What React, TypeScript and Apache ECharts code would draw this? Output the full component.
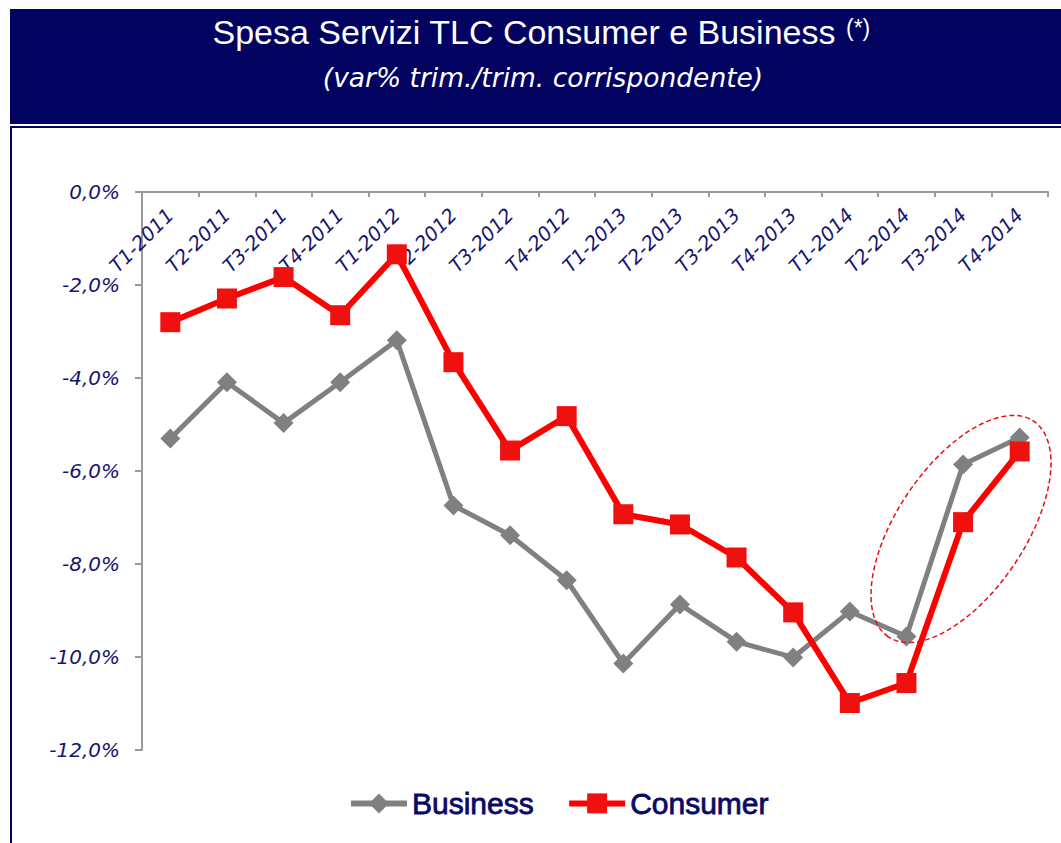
import React, { useEffect, useRef } from "react";
import * as echarts from "echarts";

const categories = [
  "T1-2011", "T2-2011", "T3-2011", "T4-2011",
  "T1-2012", "T2-2012", "T3-2012", "T4-2012",
  "T1-2013", "T2-2013", "T3-2013", "T4-2013",
  "T1-2014", "T2-2014", "T3-2014", "T4-2014",
];

const business = [
  -5.3, -4.09, -4.97, -4.09,
  -3.19, -6.74, -7.38, -8.35,
  -10.14, -8.87, -9.67, -10.01,
  -9.02, -9.56, -5.86, -5.28,
];

const consumer = [
  -2.8, -2.29, -1.83, -2.65,
  -1.34, -3.66, -5.56, -4.82,
  -6.93, -7.15, -7.86, -9.04,
  -10.99, -10.56, -7.1, -5.58,
];

const yMin = -12;
const yMax = 0;
const yStep = 2;

const titleText = "Spesa Servizi TLC Consumer e Business";
const titleNote = "(*)";
const subtitleText = "(var% trim./trim. corrispondente)";

const NAVY = "#020260";
const LABEL = "#16166e";

export default function App() {
  const ref = useRef<HTMLDivElement>(null);

  useEffect(() => {
    if (!ref.current) return;
    const chart = echarts.init(ref.current, null, { renderer: "svg" });
    chart.setOption({
      animation: false,
      backgroundColor: "#ffffff",
      grid: { left: 142, top: 192, right: 13, bottom: 93, containLabel: false, outerBoundsMode: "none" },
      xAxis: {
        type: "category",
        position: "top",
        data: categories,
        boundaryGap: true,
        axisLine: { show: true, onZero: false, lineStyle: { color: "#9a9a9a", width: 2 } },
        axisTick: { show: true, inside: true, length: 5, alignWithLabel: false, lineStyle: { color: "#9a9a9a", width: 2 } },
        axisLabel: {
          inside: true,
          rotate: -45,
          interval: 0,
          margin: 20,
          color: LABEL,
          fontFamily: "DejaVu Sans",
          fontStyle: "italic",
          fontSize: 19.5,
        },
        splitLine: { show: false },
      },
      yAxis: {
        type: "value",
        min: yMin,
        max: yMax,
        interval: yStep,
        axisLine: { show: true, lineStyle: { color: "#9a9a9a", width: 2 } },
        axisTick: { show: true, length: 7, lineStyle: { color: "#9a9a9a", width: 2 } },
        axisLabel: {
          margin: 22,
          color: LABEL,
          fontFamily: "DejaVu Sans",
          fontStyle: "italic",
          fontSize: 20,
          formatter: (v: number) => v.toFixed(1).replace(".", ",") + "%",
        },
        splitLine: { show: false },
      },
      legend: {
        data: ["Business", "Consumer"],
        left: 348,
        top: 788,
        padding: 0,
        itemWidth: 56,
        itemHeight: 25,
        itemGap: 32,
        lineStyle: { width: 6 },
        textStyle: {
          fontFamily: "Liberation Sans",
          fontSize: 30,
          color: "#0a0a66",
          textBorderColor: "#0a0a66",
          textBorderWidth: 0.8,
        },
      },
      series: [
        {
          name: "Business",
          type: "line",
          data: business,
          symbol: "diamond",
          symbolSize: 20,
          lineStyle: { color: "#808080", width: 5 },
          itemStyle: { color: "#808080" },
          z: 2,
        },
        {
          name: "Consumer",
          type: "line",
          data: consumer,
          symbol: "rect",
          symbolSize: 20,
          lineStyle: { color: "#ff0000", width: 6 },
          itemStyle: { color: "#f01010" },
          z: 3,
        },
      ],
      graphic: [
        {
          type: "rect",
          silent: true,
          shape: { x: 10, y: 9, width: 1060, height: 115 },
          style: { fill: NAVY },
          z: 0,
        },
        {
          type: "rect",
          silent: true,
          shape: { x: 11, y: 127, width: 1060, height: 730 },
          style: { fill: "none", stroke: NAVY, lineWidth: 2 },
          z: 0,
        },
        {
          type: "text",
          x: 524,
          y: 32,
          style: {
            text: titleText,
            fill: "#ffffff",
            font: "34px 'Liberation Sans'",
            textAlign: "center",
            textVerticalAlign: "middle",
          },
          z: 10,
        },
        {
          type: "text",
          x: 846,
          y: 28,
          style: {
            text: titleNote,
            fill: "#ffffff",
            font: "23px 'Liberation Sans'",
            textAlign: "left",
            textVerticalAlign: "middle",
          },
          z: 10,
        },
        {
          type: "text",
          x: 543,
          y: 77,
          style: {
            text: subtitleText,
            fill: "#ffffff",
            font: "italic 26.5px 'DejaVu Sans'",
            textAlign: "center",
            textVerticalAlign: "middle",
          },
          z: 10,
        },
        {
          type: "ellipse",
          silent: true,
          x: 961,
          y: 529,
          rotation: (56 * Math.PI) / 180,
          shape: { cx: 0, cy: 0, rx: 130, ry: 64 },
          style: { fill: "none", stroke: "#e81010", lineWidth: 1.5, lineDash: [5, 3] },
          z: 20,
        },
      ],
    });
    return () => chart.dispose();
  }, []);

  return (
    <div
      ref={ref}
      style={{ position: "fixed", left: 0, top: 0, width: 1061, height: 843 }}
    />
  );
}
